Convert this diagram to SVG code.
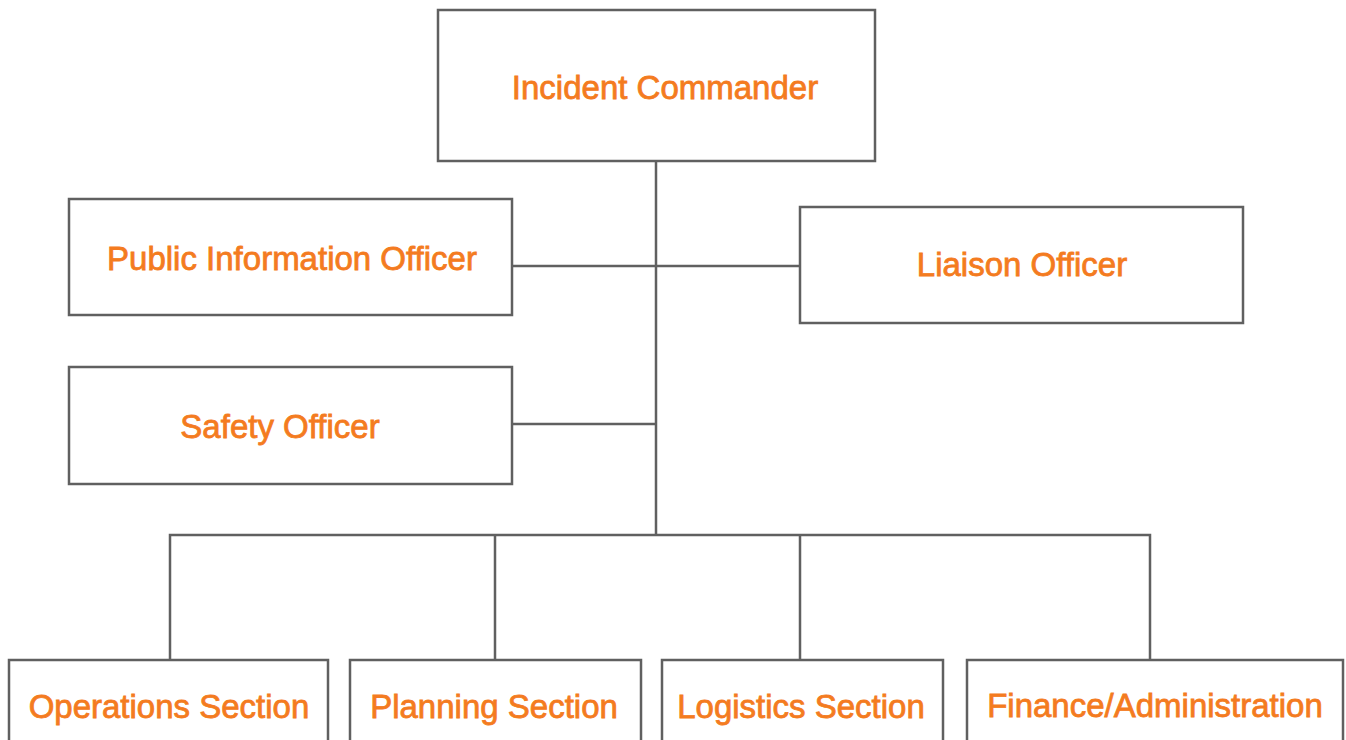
<svg xmlns="http://www.w3.org/2000/svg" width="1346" height="740" viewBox="0 0 1346 740">
<style>
.box{fill:#fff;stroke:#606060;stroke-width:2.5}
.lbl{font-family:"Liberation Sans",Arial,sans-serif;font-size:33px;fill:#F47B20;stroke:#F47B20;stroke-width:0.8;text-anchor:middle}
.conn{stroke:#606060;stroke-width:2.5;fill:none}
</style>
<rect width="1346" height="740" fill="#fff"/>
<g id="connectors">
<path class="conn" d="M656 161V535M513 266H800M513 424H656M170 660V535H1150V660M495 535V660M800 535V660"/>
</g>
<g id="incident-commander"><rect class="box" x="438" y="10" width="437" height="151"/><text class="lbl" x="665" y="99">Incident Commander</text></g>
<g id="pio"><rect class="box" x="69" y="199" width="443" height="116"/><text class="lbl" x="292" y="270">Public Information Officer</text></g>
<g id="liaison"><rect class="box" x="800" y="207" width="443" height="116"/><text class="lbl" x="1022" y="276">Liaison Officer</text></g>
<g id="safety"><rect class="box" x="69" y="367" width="443" height="117"/><text class="lbl" x="280" y="438">Safety Officer</text></g>
<g id="operations"><rect class="box" x="9" y="660" width="319" height="100"/><text class="lbl" x="169" y="718">Operations Section</text></g>
<g id="planning"><rect class="box" x="350" y="660" width="291" height="100"/><text class="lbl" x="494" y="718">Planning Section</text></g>
<g id="logistics"><rect class="box" x="662" y="660" width="281" height="100"/><text class="lbl" x="801" y="718">Logistics Section</text></g>
<g id="finance"><rect class="box" x="967" y="660" width="376" height="100"/><text class="lbl" x="1155" y="717">Finance/Administration</text></g>
</svg>
